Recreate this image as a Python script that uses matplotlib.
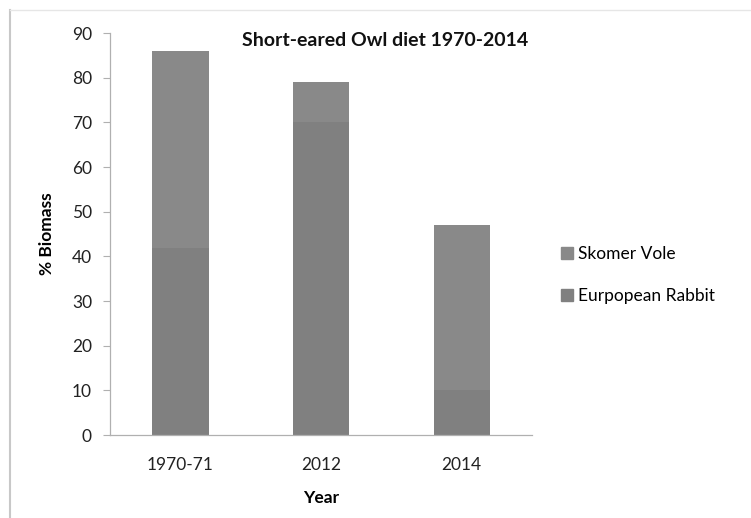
import matplotlib
matplotlib.use("Agg")
import matplotlib.pyplot as plt
from matplotlib.lines import Line2D
import numpy as np

plt.rcParams['font.family'] = ['Lato', 'DejaVu Sans']

# data
years = ["1970-71", "2012", "2014"]
rabbit = [42, 70, 10]
vole = [44, 9, 37]
yticks = list(range(0, 100, 10))

rabbit_col = "#808080"
vole_col = "#898989"
axis_col = "#b0b0b0"

fig = plt.figure(figsize=(7.51, 5.18), dpi=100)
ax = fig.add_axes((0.1465, 0.160, 0.562, 0.776))

x = np.arange(len(years))
ax.bar(x, rabbit, width=0.4, color=rabbit_col, label="Eurpopean Rabbit")
ax.bar(x, vole, width=0.4, bottom=rabbit, color=vole_col, label="Skomer Vole")

ax.set_xlim(-0.5, 2.5)
ax.set_ylim(0, 90)
ax.set_yticks(yticks)
ax.set_xticks(x)
ax.set_xticklabels(years)
ax.tick_params(axis="y", length=5, color=axis_col, labelsize=12.5, pad=8, labelcolor="#222222")
ax.tick_params(axis="x", length=0, labelsize=12.5, pad=16, labelcolor="#222222")

for s in ["top", "right"]:
    ax.spines[s].set_visible(False)
for s in ["left", "bottom"]:
    ax.spines[s].set_color(axis_col)
    ax.spines[s].set_linewidth(0.9)

ax.set_ylabel("% Biomass", fontsize=12.5, fontweight="bold", labelpad=12)
ax.set_xlabel("Year", fontsize=12.5, fontweight="bold", labelpad=12)

fig.text(385 / 751, 1 - 40 / 518, "Short-eared Owl diet 1970-2014",
         ha="center", va="center", fontsize=14, fontweight="bold", color="#111111")

handles = [
    Line2D([], [], marker="s", linestyle="", color=vole_col, markersize=8),
    Line2D([], [], marker="s", linestyle="", color=rabbit_col, markersize=8),
]
fig.legend(handles, ["Skomer Vole", "Eurpopean Rabbit"], loc="center left",
           bbox_to_anchor=(543 / 751, 1 - 275 / 518), frameon=False,
           fontsize=12.5, handletextpad=0.1, labelspacing=1.45, handlelength=1.0)

# chart area border (left and top edges visible in the reference)
fig.add_artist(Line2D([10 / 751, 10 / 751], [0, 1 - 10 / 518], transform=fig.transFigure,
                      color="#c8c8c8", linewidth=1.5))
fig.add_artist(Line2D([10 / 751, 1], [1 - 10 / 518, 1 - 10 / 518], transform=fig.transFigure,
                      color="#e6e6e6", linewidth=1.0))

fig.savefig("out.png", dpi=100)
